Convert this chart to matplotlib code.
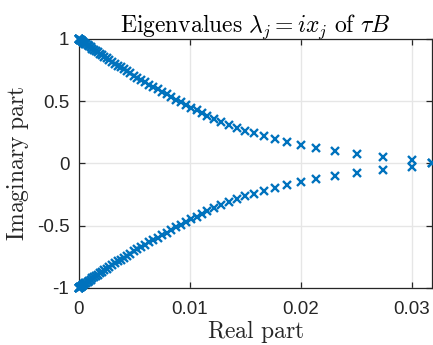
import numpy as np
import matplotlib
matplotlib.use("Agg")
from matplotlib import pyplot as plt

plt.rcParams['mathtext.fontset'] = 'cm'
plt.rcParams['font.family'] = ['Liberation Sans', 'DejaVu Sans']
plt.rcParams['axes.unicode_minus'] = False

# eigenvalues in the upper half plane, lower half is the conjugate
real_part = [0.0318, 0.0300, 0.02736, 0.0250, 0.02303, 0.02138, 0.01997, 0.01877,
             0.01769, 0.01669, 0.01579, 0.01498, 0.01423, 0.01354, 0.01282, 0.01216,
             0.0115, 0.01105, 0.01060, 0.01012, 0.00965, 0.00919, 0.00875, 0.00831,
             0.00789, 0.00748, 0.00708, 0.00669, 0.00632, 0.00596, 0.00560, 0.00526,
             0.00494, 0.00462, 0.00431, 0.00402, 0.00374, 0.00347, 0.00320, 0.00296,
             0.00272, 0.00249, 0.00227, 0.00207, 0.00187, 0.00168, 0.00151, 0.00134,
             0.00119, 0.00104, 0.00091, 0.00078, 0.00067, 0.00056, 0.00047, 0.00038,
             0.00029, 0.00023, 0.00017, 0.00012, 0.00008, 0.00004, 0.00002, 0.00001, 0.0]
imag_part = [0.0, 0.030, 0.050, 0.078, 0.099, 0.123, 0.147, 0.174,
             0.195, 0.219, 0.243, 0.265, 0.287, 0.311, 0.335, 0.361,
             0.383, 0.407, 0.427, 0.449, 0.471, 0.492, 0.513, 0.534,
             0.555, 0.575, 0.595, 0.614, 0.633, 0.652, 0.671, 0.689,
             0.706, 0.723, 0.740, 0.756, 0.772, 0.787, 0.802, 0.817,
             0.831, 0.844, 0.857, 0.869, 0.881, 0.893, 0.903, 0.914,
             0.923, 0.933, 0.941, 0.949, 0.956, 0.963, 0.969, 0.975,
             0.981, 0.985, 0.989, 0.992, 0.995, 0.997, 0.999, 1.0, 1.0]

xticks = [0, 0.01, 0.02, 0.03]
xticklabels = ['0', '0.01', '0.02', '0.03']
yticks = [-1, -0.5, 0, 0.5, 1]
yticklabels = ['-1', '-0.5', '0', '0.5', '1']

re = np.array(real_part)
im = np.array(imag_part)

fig = plt.figure(figsize=(4.33, 3.45), dpi=100)
ax = fig.add_axes([79/433, 1-288/345, (432-79)/433, (288-39)/345])

blue = '#0072BD'
ax.plot(np.concatenate([re, re]), np.concatenate([im, -im]), 'x', color=blue,
        markersize=5.8, markeredgewidth=1.7, clip_on=False, zorder=3)

ax.set_xlim(0, 0.0318)
ax.set_ylim(-1, 1)
ax.set_xticks(xticks)
ax.set_xticklabels(xticklabels)
ax.set_yticks(yticks)
ax.set_yticklabels(yticklabels)

ax.grid(True, color='#e6e6e6', linewidth=1.0)
ax.set_axisbelow(True)
for s in ax.spines.values():
    s.set_color('#262626')
    s.set_linewidth(0.9)
ax.tick_params(direction='in', length=4, width=0.9, colors='#262626',
               labelsize=13.5, top=True, right=True)
ax.tick_params(axis='x', pad=9)
ax.tick_params(axis='y', pad=7)

ax.set_title(r'$\mathrm{Eigenvalues}\ \lambda_j = ix_j\ \mathrm{of}\ \tau B$',
             fontsize=17, pad=5, color='#000000')
ax.set_xlabel(r'$\mathrm{Real\ part}$', fontsize=17, labelpad=0.5, color='#262626')
ax.set_ylabel(r'$\mathrm{Imaginary\ part}$', fontsize=17, labelpad=4, color='#262626')

fig.savefig('out.png', dpi=100)
